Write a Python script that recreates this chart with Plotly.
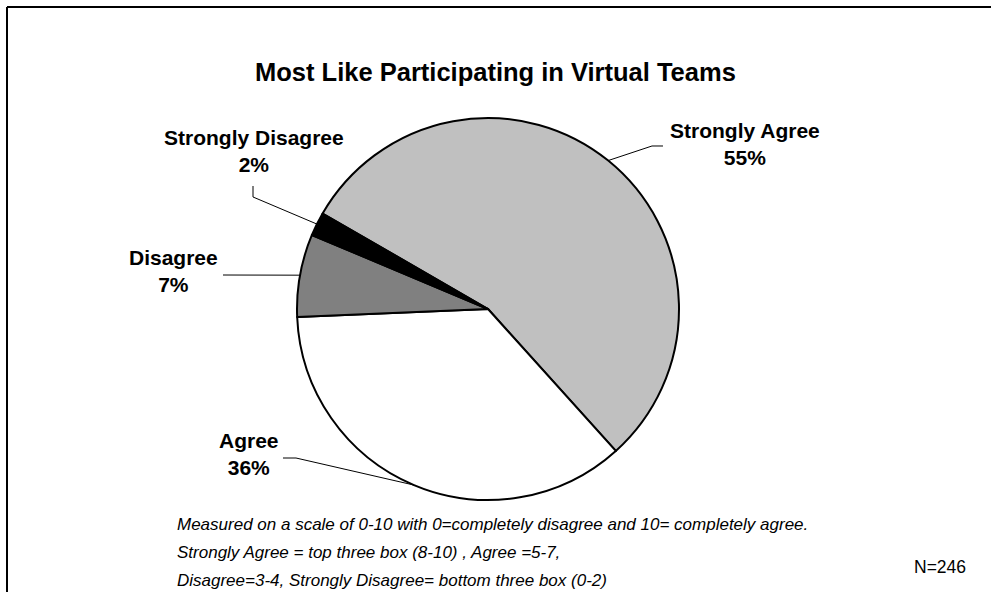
import math
import plotly.graph_objects as go

# Survey answers (N=246), in drawing order
categories = ["Strongly Agree", "Agree", "Disagree", "Strongly Disagree"]
shares = [55, 36, 7, 2]
slice_colors = ["#c0c0c0", "#ffffff", "#808080", "#000000"]

title_text = "Most Like Participating in Virtual Teams"
footnote_lines = [
    "Measured on a scale of 0-10 with 0=completely disagree and 10= completely agree.",
    "Strongly Agree = top three box (8-10) , Agree =5-7,",
    "Disagree=3-4, Strongly Disagree= bottom three box (0-2)",
]
sample_note = "N=246"

W, H = 991, 592
FONT = "Liberation Sans, Arial, sans-serif"
ROTATION = -60  # start of first slice, degrees clockwise from 12 o'clock

# pie placement in pixels
PIE_CX, PIE_CY, PIE_R = 488, 309, 191
dom_x = [(PIE_CX - PIE_R) / W, (PIE_CX + PIE_R) / W]
dom_y = [1 - (PIE_CY + PIE_R) / H, 1 - (PIE_CY - PIE_R) / H]


def px(x):
    return x / W


def py(y):
    return 1 - y / H


def rim_point(i):
    """Pixel point on the rim at the middle of slice i."""
    total = sum(shares)
    before = sum(shares[:i])
    ang = math.radians(ROTATION + 360 * (before + shares[i] / 2) / total)
    return PIE_CX + PIE_R * math.sin(ang), PIE_CY - PIE_R * math.cos(ang)


fig = go.Figure(
    go.Pie(
        labels=categories,
        values=shares,
        sort=False,
        direction="clockwise",
        rotation=ROTATION,
        marker=dict(colors=slice_colors, line=dict(color="#000000", width=2)),
        textinfo="none",
        hoverinfo="label+percent",
        domain=dict(x=dom_x, y=dom_y),
        showlegend=False,
    )
)

# slice labels: (text centre, leader points from the label side toward the rim)
label_layout = {
    "Strongly Agree": ((745, 144), [(663, 146), (652, 146)]),
    "Agree": ((249, 454), [(283, 458), (296, 458)]),
    "Disagree": ((173, 271), [(223, 275)]),
    "Strongly Disagree": ((254, 151), [(253, 186), (253, 197)]),
}

annotations = []
shapes = []
for i, cat in enumerate(categories):
    (tx, ty), pts = label_layout[cat]
    pct = round(100 * shares[i] / sum(shares))
    annotations.append(
        dict(
            x=px(tx), y=py(ty), xref="paper", yref="paper",
            text=f"<b>{cat}<br>{pct}%</b>", showarrow=False,
            font=dict(family=FONT, size=21, color="#000000"),
            align="center", xanchor="center", yanchor="middle",
        )
    )
    rx, ry = rim_point(i)
    path_pts = pts + [(rx, ry)]
    d = "M " + " L ".join(f"{px(x):.5f},{py(y):.5f}" for x, y in path_pts)
    shapes.append(
        dict(type="path", path=d, xref="paper", yref="paper",
             line=dict(color="#000000", width=1))
    )

# title
annotations.append(
    dict(x=px(495), y=py(72), xref="paper", yref="paper",
         text=f"<b>{title_text}</b>", showarrow=False,
         font=dict(family=FONT, size=25.5, color="#000000"),
         xanchor="center", yanchor="middle")
)

# footnote
for k, line in enumerate(footnote_lines):
    annotations.append(
        dict(x=px(175), y=py(524 + 28 * k), xref="paper", yref="paper",
             text=f"<i>{line}</i>", showarrow=False,
             font=dict(family=FONT, size=17, color="#000000"),
             xanchor="left", yanchor="middle", align="left")
    )

annotations.append(
    dict(x=px(968), y=py(567), xref="paper", yref="paper",
         text=sample_note, showarrow=False,
         font=dict(family=FONT, size=17.5, color="#000000"),
         xanchor="right", yanchor="middle")
)

# chart frame (top and left edges visible)
shapes.append(dict(type="line", xref="paper", yref="paper",
                   x0=px(7), y0=py(7), x1=1.0, y1=py(7),
                   line=dict(color="#000000", width=2)))
shapes.append(dict(type="line", xref="paper", yref="paper",
                   x0=px(7), y0=py(7), x1=px(7), y1=0.0,
                   line=dict(color="#000000", width=2)))

fig.update_layout(
    width=W, height=H,
    margin=dict(l=0, r=0, t=0, b=0),
    paper_bgcolor="#ffffff", plot_bgcolor="#ffffff",
    annotations=annotations, shapes=shapes,
    showlegend=False,
)

fig.write_html("out.html")
